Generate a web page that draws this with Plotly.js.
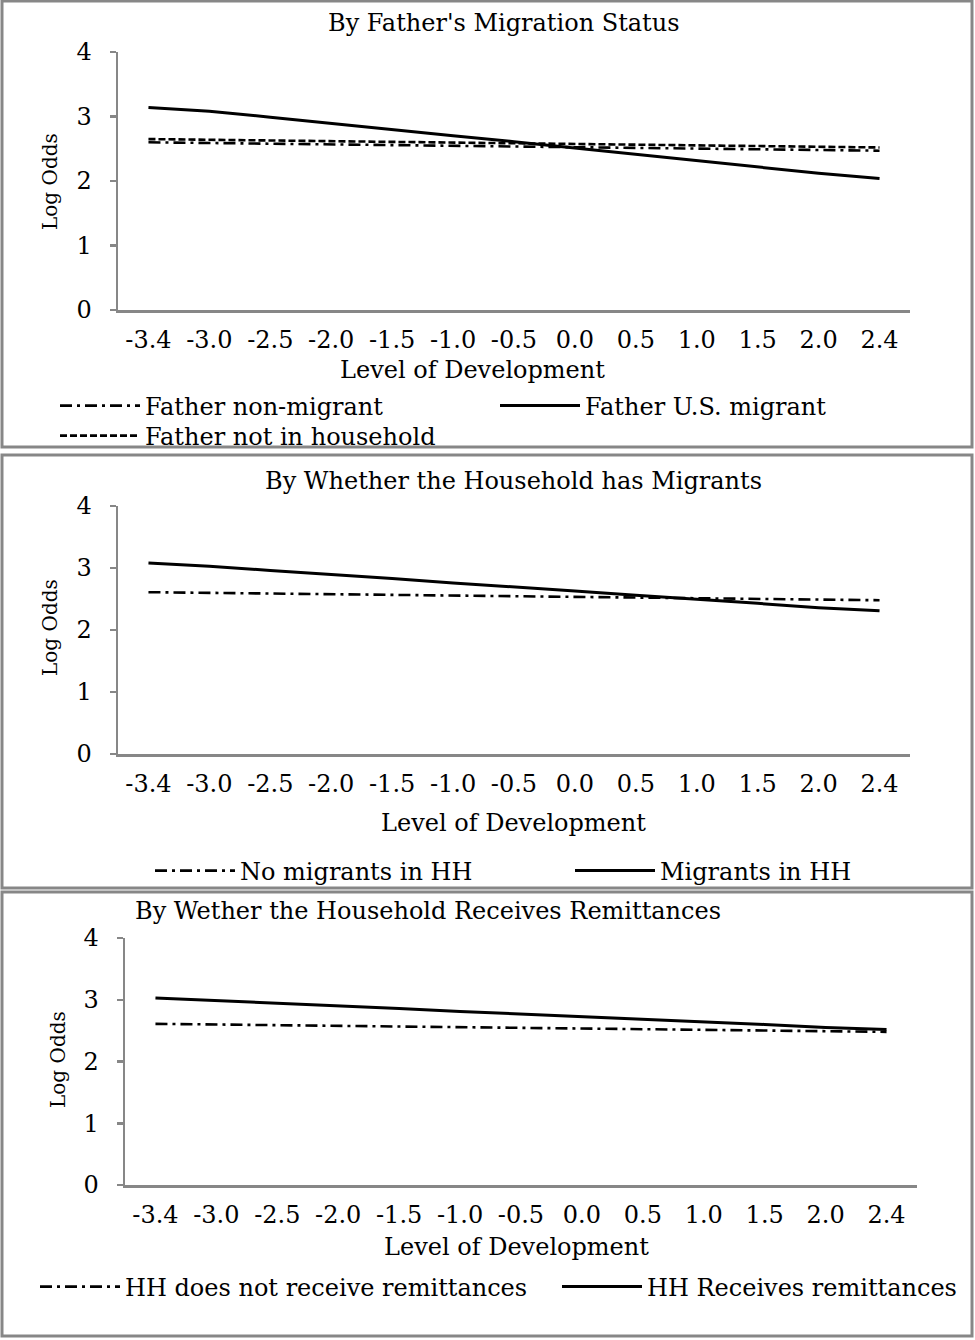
<!DOCTYPE html>
<html>
<head>
<meta charset="utf-8">
<script src="https://cdn.plot.ly/plotly-3.0.1.min.js"></script>
<style>html,body{margin:0;padding:0;background:#fff;overflow:hidden;}#chart{width:975px;height:1340px;}</style>
</head>
<body>
<div id="chart"></div>
<script>
// ---- data ----
const levels = ['-3.4','-3.0','-2.5','-2.0','-1.5','-1.0','-0.5','0.0','0.5','1.0','1.5','2.0','2.4'];
const yTicks = [0, 1, 2, 3, 4];

const fatherNonMigrant = [2.60, 2.59, 2.58, 2.57, 2.56, 2.55, 2.54, 2.52, 2.51, 2.50, 2.49, 2.48, 2.47];
const fatherUSMigrant  = [3.14, 3.08, 2.99, 2.89, 2.80, 2.70, 2.61, 2.51, 2.41, 2.32, 2.22, 2.12, 2.04];
const fatherNotInHH    = [2.65, 2.64, 2.63, 2.62, 2.61, 2.60, 2.59, 2.57, 2.56, 2.55, 2.54, 2.53, 2.52];

const noMigrantsHH = [2.61, 2.60, 2.59, 2.58, 2.57, 2.56, 2.55, 2.53, 2.52, 2.51, 2.50, 2.49, 2.48];
const migrantsHH   = [3.08, 3.03, 2.96, 2.90, 2.83, 2.76, 2.70, 2.63, 2.56, 2.50, 2.43, 2.36, 2.31];

const noRemittances = [2.61, 2.60, 2.59, 2.58, 2.57, 2.56, 2.55, 2.54, 2.52, 2.51, 2.50, 2.49, 2.48];
const remittances   = [3.03, 2.99, 2.95, 2.90, 2.86, 2.81, 2.77, 2.73, 2.68, 2.64, 2.60, 2.55, 2.52];

const panelTitles = ["By Father's Migration Status", "By Whether the Household has Migrants", "By Wether the Household Receives Remittances"];
const xTitle = "Level of Development";
const yTitle = "Log Odds";

// ---- styling ----
const W = 975, H = 1340;
const FONT = '"DejaVu Serif", "Liberation Serif", serif';
const GREY = '#878787';
const dashDot = '12px,5px,3px,5px';
const dashShort = '7px,3px';

function line(y, name, dash, xa, ya, leg) {
  return {
    x: levels, y: y, name: name, type: 'scatter', mode: 'lines',
    xaxis: xa, yaxis: ya, legend: leg,
    line: {color: '#000', width: dash === 'solid' ? 3 : 2.6, dash: dash},
    hoverinfo: 'skip'
  };
}

const traces = [
  line(fatherNonMigrant, 'Father non-migrant', dashDot, 'x', 'y', 'legend'),
  line(fatherUSMigrant, 'Father U.S. migrant', 'solid', 'x', 'y', 'legend2'),
  line(fatherNotInHH, 'Father not in household', dashShort, 'x', 'y', 'legend3'),
  line(noMigrantsHH, 'No migrants in HH', dashDot, 'x2', 'y2', 'legend4'),
  line(migrantsHH, 'Migrants in HH', 'solid', 'x2', 'y2', 'legend5'),
  line(noRemittances, 'HH does not receive remittances', dashDot, 'x3', 'y3', 'legend6'),
  line(remittances, 'HH Receives remittances', 'solid', 'x3', 'y3', 'legend7')
];

const px = v => v / W;
const py = v => 1 - v / H;

function xAxis(x0, x1, anchor) {
  return {
    domain: [px(x0), px(x1)], anchor: anchor, type: 'category',
    categoryorder: 'array', categoryarray: levels, range: [-0.5, levels.length - 0.5],
    showline: true, linecolor: GREY, linewidth: 2.5,
    showgrid: false, zeroline: false,
    ticks: 'outside', ticklen: 7, tickcolor: 'rgba(0,0,0,0)',
    tickfont: {family: FONT, size: 24, color: '#000'},
    fixedrange: true
  };
}
function yAxis(y0, y1, anchor) {
  return {
    domain: [py(y0), py(y1)], anchor: anchor, range: [0, 4],
    tickvals: yTicks, showline: true, linecolor: GREY, linewidth: 2.5,
    showgrid: false, zeroline: false,
    ticks: 'outside', ticklen: 6, tickcolor: GREY, tickwidth: 2.5,
    ticklabelstandoff: 13,
    tickfont: {family: FONT, size: 24, color: '#000'},
    fixedrange: true
  };
}

function ann(text, x, y, size, angle) {
  return {text: text, x: px(x), y: py(y), xref: 'paper', yref: 'paper',
          xanchor: 'center', yanchor: 'middle', showarrow: false,
          textangle: angle || 0, font: {family: FONT, size: size, color: '#000'}};
}

function box(x0, y0, x1, y1) {
  return {type: 'rect', xref: 'paper', yref: 'paper',
          x0: px(x0), x1: px(x1), y0: py(y0), y1: py(y1),
          line: {color: GREY, width: 3}, fillcolor: 'rgba(0,0,0,0)', layer: 'below'};
}

function legend(x, y) {
  return {orientation: 'v', x: px(x), y: py(y), xanchor: 'left', yanchor: 'middle',
          xref: 'paper', yref: 'paper',
          font: {family: FONT, size: 24, color: '#000'},
          itemwidth: 80, bgcolor: 'rgba(0,0,0,0)', borderwidth: 0,
          itemclick: false, itemdoubleclick: false};
}

const layout = {
  width: W, height: H, margin: {l: 0, r: 0, t: 0, b: 0},
  paper_bgcolor: '#fff', plot_bgcolor: '#fff', showlegend: true,
  xaxis: xAxis(118, 910, 'y'),   yaxis: yAxis(310, 52, 'x'),
  xaxis2: xAxis(118, 910, 'y2'), yaxis2: yAxis(754, 506, 'x2'),
  xaxis3: xAxis(125, 917, 'y3'), yaxis3: yAxis(1185, 938, 'x3'),
  legend: legend(55, 406),
  legend2: legend(495, 406),
  legend3: legend(55, 436),
  legend4: legend(150, 871),
  legend5: legend(570, 871),
  legend6: legend(35, 1287),
  legend7: legend(557, 1287),
  annotations: [
    ann(panelTitles[0], 504, 23, 24),
    ann(panelTitles[1], 513, 481, 24),
    ann(panelTitles[2], 428, 911, 24),
    ann(xTitle, 472, 370, 24), ann(xTitle, 513, 823, 24), ann(xTitle, 516, 1247, 24),
    ann(yTitle, 50, 182, 20, -90), ann(yTitle, 50, 628, 20, -90), ann(yTitle, 58, 1060, 20, -90)
  ],
  shapes: [box(2, 1, 972, 447), box(2, 455, 972, 888), box(2, 892, 972, 1336)]
};

Plotly.newPlot('chart', traces, layout, {displayModeBar: false, staticPlot: true});
</script>
</body>
</html>
